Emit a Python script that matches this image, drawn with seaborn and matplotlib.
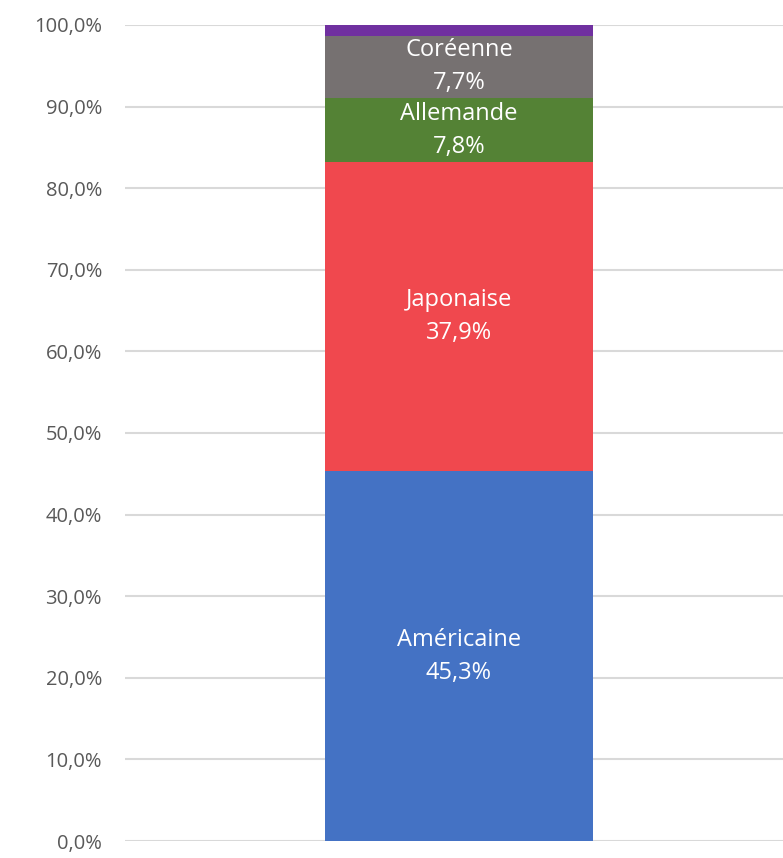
import numpy as np
import pandas as pd
import matplotlib.pyplot as plt
import seaborn as sns
from matplotlib.ticker import FuncFormatter

# Data
categories = ['Américaine', 'Japonaise', 'Allemande', 'Coréenne', 'Autre']
shares = [45.3, 37.9, 7.8, 7.7, 1.3]
colors = ['#4472C4', '#F0484E', '#548235', '#767171', '#7030A0']
show_label = [True, True, True, True, False]

sns.set_theme(style='white')
plt.rcParams['font.family'] = ['Open Sans', 'DejaVu Sans']

fig = plt.figure(figsize=(7.83, 8.58), dpi=100)
ax = fig.add_axes([0.1596, 0.0198, 0.8404, 0.9511])

# Stacked bar: draw cumulative totals from the top down
tops = np.cumsum(shares)
for i in range(len(categories) - 1, -1, -1):
    df = pd.DataFrame({'x': ['total'], 'y': [tops[i]]})
    sns.barplot(data=df, x='x', y='y', color=colors[i], saturation=1,
                width=0.8, linewidth=0, ax=ax, zorder=2)

# Segment labels
bottoms = tops - np.array(shares)
for name, val, b, show in zip(categories, shares, bottoms, show_label):
    if not show:
        continue
    mid = b + val / 2
    ax.text(0, mid, f"{name}\n{val:.1f}%".replace('.', ','), ha='center', va='center',
            color='white', fontsize=17, linespacing=1.5, zorder=3)

ax.set_ylim(0, 100)
ax.set_xlim(-1.0, 0.97)
ax.set_yticks(np.arange(0, 101, 10))
ax.yaxis.set_major_formatter(FuncFormatter(lambda v, p: f"{v:.1f}%".replace('.', ',')))
ax.tick_params(axis='y', labelsize=14.5, colors='#595959', length=0, pad=16.5)
ax.set_xticks([])
ax.set_xlabel('')
ax.set_ylabel('')
ax.yaxis.grid(True, color='#D9D9D9', linewidth=1.5, zorder=0)
ax.set_axisbelow(True)
for s in ax.spines.values():
    s.set_visible(False)

fig.savefig('out.png', dpi=100)
